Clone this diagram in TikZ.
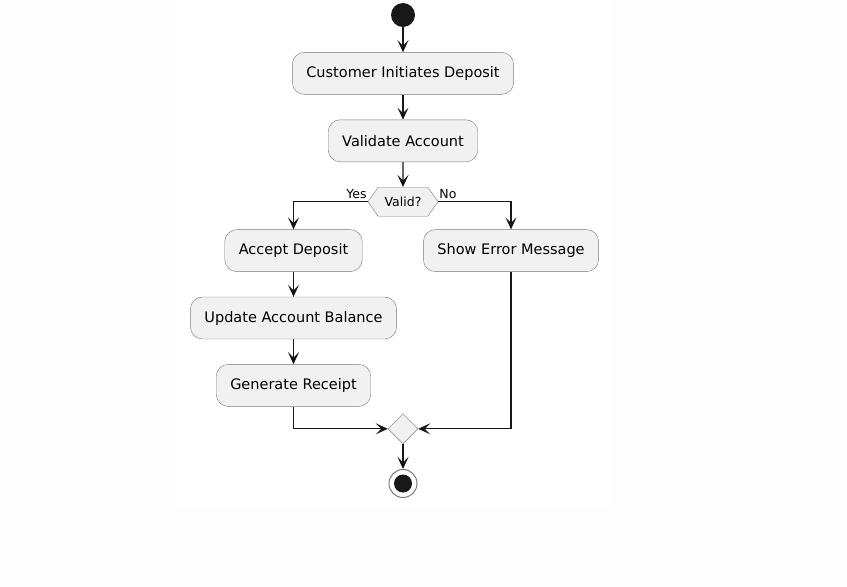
\documentclass[tikz,border=0pt]{standalone}
\usepackage{fontspec}
\setmainfont{DejaVu Sans}
\usepackage{tikz}
\usetikzlibrary{arrows.meta, positioning, shapes.geometric, shapes.symbols}
\definecolor{actfill}{HTML}{F1F1F1}
\definecolor{actline}{HTML}{7A7A7A}
\definecolor{flowline}{HTML}{181818}
\definecolor{pageback}{HTML}{FDFDFD}

\begin{document}
\begin{tikzpicture}[x=1pt,y=1pt,node distance=25pt,
    >={Stealth[length=12pt,width=11pt,inset=5.5pt]}]
  \tikzstyle{activity}=[rectangle,rounded corners=12pt,draw=actline,fill=actfill,
    font=\fontsize{14.5}{17}\selectfont,minimum height=42pt,inner xsep=14pt]
  \tikzstyle{choice}=[signal,signal to=west and east,signal pointer angle=110,
    draw=actline,fill=actfill,minimum height=29pt,minimum width=70pt,inner sep=0pt,
    font=\fontsize{12.5}{15}\selectfont]
  \tikzstyle{merger}=[diamond,draw=actline,fill=actfill,minimum width=30pt,
    minimum height=30pt,inner sep=0pt]
  \tikzstyle{begin}=[circle,fill=flowline,minimum size=24pt,inner sep=0pt]
  \tikzstyle{finish}=[circle,draw=actline,fill=white,line width=1pt,minimum size=28pt,
    inner sep=0pt,path picture={\fill[flowline] (path picture bounding box.center) circle (9pt);}]
  \tikzstyle{guard}=[font=\fontsize{12.5}{15}\selectfont,inner sep=1pt]
  \tikzstyle{flow}=[draw=flowline,line width=1.1pt]

  \fill[pageback] (0,0) rectangle (847,-587);
  \fill[white] (176,0) rectangle (612,-508);
  \useasboundingbox (0,0) rectangle (847,-587);

  \node[begin]    (start)    at (403,-15)                      {};
  \node[activity] (initiate) [below=25pt of start]             {Customer Initiates Deposit};
  \node[activity] (validate) [below=of initiate]               {Validate Account};
  \node[choice]   (valid)    [below=25pt of validate]          {Valid?};
  \node[activity] (accept)   [below=13pt of valid,xshift=-109.5pt] {Accept Deposit};
  \node[activity] (error)    [below=13pt of valid,xshift=108pt]    {Show Error Message};
  \node[activity] (update)   [below=of accept]                 {Update Account Balance};
  \node[activity] (receipt)  [below=of update]                 {Generate Receipt};
  \node[merger]   (merge)    [below=7pt of receipt,xshift=109.5pt] {};
  \node[finish]   (stop)     [below=of merge]                  {};

  \node[guard,anchor=base east] (yes) at ([yshift=3pt]valid.west) {Yes};
  \node[guard,anchor=base west] (no)  at ([yshift=3pt]valid.east) {No};

  \path[->,flow]
  (start)    edge (initiate)
  (initiate) edge (validate)
  (validate) edge (valid)
  (accept)   edge (update)
  (update)   edge (receipt)
  (merge)    edge (stop)
  ;
  \draw[->,flow] (valid.west) -| (accept);
  \draw[->,flow] (valid.east) -| (error);
  \draw[->,flow] (receipt) |- (merge);
  \draw[->,flow] (error) |- (merge);
\end{tikzpicture}
\end{document}
